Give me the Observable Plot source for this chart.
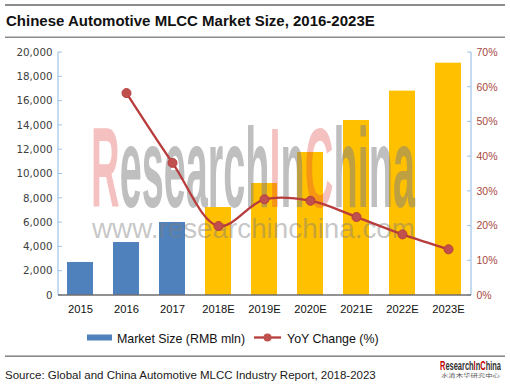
<!DOCTYPE html>
<html><head><meta charset="utf-8">
<script src="https://cdn.jsdelivr.net/npm/d3@7"></script>
<script src="https://cdn.jsdelivr.net/npm/@observablehq/plot@0.6"></script>
<style>
html,body{margin:0;padding:0;background:#fff;}
#page{position:relative;width:510px;height:391px;overflow:hidden;background:#fff;font-family:"Liberation Sans",Arial,sans-serif;}
#deco{position:absolute;left:0;top:0;}
#chart{position:absolute;left:0;top:40px;}
</style></head>
<body><div id="page"><svg id="deco" width="510" height="391"></svg><div id="chart"></div></div>
<script>
// ---- data ----
const years = ["2015","2016","2017","2018E","2019E","2020E","2021E","2022E","2023E"];
const marketSize = [2720, 4360, 6010, 7240, 9220, 11770, 14400, 16820, 19120];
const yoyYears = ["2016","2017","2018E","2019E","2020E","2021E","2022E","2023E"];
const yoyChange = [58.3, 38.2, 20.0, 27.7, 27.3, 22.6, 17.6, 13.3];
const leftTicks = [0,2000,4000,6000,8000,10000,12000,14000,16000,18000,20000];
const rightTicks = [0,10,20,30,40,50,60,70];
const title = "Chinese Automotive MLCC Market Size, 2016-2023E";
const legendLabels = ["Market Size (RMB mln)", "YoY Change (%)"];
const source = "Source: Global and China Automotive MLCC Industry Report, 2018-2023";

const LMAX = 20000, RMAX = 70;
const toLeft = p => p * LMAX / RMAX;
const barData = years.map((y,i) => ({year:y, value:marketSize[i], type: y.endsWith("E") ? "forecast" : "actual"}));
const yoyData = yoyYears.map((y,i) => ({year:y, pct:yoyChange[i]}));

const BLUE = "#4F81BD", YELLOW = "#FFC000", RED = "#C0504D", AXISBLUE = "#9DC3E6";
const FF = "'Liberation Sans', Arial, sans-serif";

function watermark() {
  const g = d3.create("svg:g").attr("pointer-events","none").attr("text-anchor","start");
  const t = g.append("text").attr("x", 91).attr("y", 167).attr("text-anchor","start")
    .attr("textLength", 324).attr("lengthAdjust", "spacingAndGlyphs")
    .attr("font-size", 114).attr("font-weight", "bold")
    .attr("font-family", FF);
  [["R",1],["esearch",0],["I",1],["n",0],["C",1],["hina",0]].forEach(([s,p]) => {
    t.append("tspan").text(s)
      .attr("fill", p ? "#E03C3C" : "#7F7F7F")
      .attr("fill-opacity", p ? 0.32 : 0.5);
  });
  g.append("text").attr("x", 92).attr("y", 198).attr("text-anchor","start")
    .attr("textLength", 323).attr("lengthAdjust", "spacingAndGlyphs")
    .attr("font-size", 28).attr("font-family", FF)
    .attr("fill", "#7F7F7F").attr("fill-opacity", 0.45)
    .text("www.researchinchina.com");
  return g.node();
}

function frameLines(...args) {
  const dims = args.find(a => a && typeof a === "object" && "marginLeft" in a && "width" in a);
  const scales = args.find(a => a && typeof a === "object" && typeof a.y === "function");
  const {width, height, marginLeft, marginRight, marginTop, marginBottom} = dims;
  const y = scales.y;
  const g = d3.create("svg:g");
  const x0 = marginLeft, x1 = width - marginRight, y0 = marginTop, y1 = height - marginBottom;
  g.append("line").attr("x1", x0).attr("x2", x0).attr("y1", y0).attr("y2", y1).attr("stroke", AXISBLUE).attr("stroke-width", 1.2);
  g.append("line").attr("x1", x1).attr("x2", x1).attr("y1", y0).attr("y2", y1).attr("stroke", AXISBLUE).attr("stroke-width", 1.2);
  leftTicks.forEach(v => g.append("line").attr("x1", x0).attr("x2", x0 + 4).attr("y1", y(v)).attr("y2", y(v)).attr("stroke", AXISBLUE).attr("stroke-width", 1));
  rightTicks.forEach(v => g.append("line").attr("x1", x1 - 4).attr("x2", x1).attr("y1", y(toLeft(v))).attr("y2", y(toLeft(v))).attr("stroke", AXISBLUE).attr("stroke-width", 1));
  g.append("line").attr("x1", x0).attr("x2", x1).attr("y1", y1).attr("y2", y1).attr("stroke", "#6E6E6E").attr("stroke-width", 1.3);
  return g.node();
}

const chart = Plot.plot({
  width: 510, height: 285,
  marginLeft: 58, marginRight: 39, marginTop: 12, marginBottom: 30,
  style: {background: "transparent", fontFamily: FF, overflow: "visible"},
  x: {type: "band", domain: years, paddingInner: 0.43, paddingOuter: 0.2, axis: null},
  y: {domain: [0, LMAX], axis: null},
  color: {domain: ["actual","forecast"], range: [BLUE, YELLOW]},
  marks: [
    Plot.barY(barData, {x: "year", y: "value", fill: "type"}),
    watermark,
    frameLines,
    Plot.axisY({anchor: "left", label: null, ticks: leftTicks, tickSize: 0, tickPadding: 6, tickFormat: d3.format(","), fill: "#404040", fontSize: 10.3, fontFamily: "'DejaVu Sans', sans-serif"}),
    Plot.axisY({anchor: "right", label: null, ticks: rightTicks.map(toLeft), tickSize: 0, tickPadding: 5, tickFormat: d => Math.round(d * RMAX / LMAX) + "%", fill: "#A8493C", fontSize: 10.5, fontFamily: "'Liberation Sans Narrow', 'Liberation Sans', sans-serif"}),
    Plot.axisX({anchor: "bottom", label: null, tickSize: 0, tickPadding: 10, fill: "#111", fontSize: 11.2}),
    Plot.line(yoyData, {x: "year", y: d => toLeft(d.pct), curve: "catmull-rom", stroke: "#B83C3C", strokeWidth: 2.3}),
    Plot.dot(yoyData, {x: "year", y: d => toLeft(d.pct), r: 4.5, fill: RED, stroke: "#B83C3C", strokeWidth: 1})
  ]
});
document.getElementById("chart").appendChild(chart);

// ---- decorations (title, legend, source, logo) ----
const deco = d3.select("#deco");
deco.append("rect").attr("x", 5).attr("y", 4).attr("width", 500).attr("height", 2).attr("fill", "#8C8C8C");
deco.append("rect").attr("x", 5).attr("y", 36.5).attr("width", 500).attr("height", 1.5).attr("fill", "#8C8C8C");
deco.append("text").attr("x", 6).attr("y", 26).attr("font-family", FF).attr("font-size", 15).attr("font-weight", "bold").attr("fill", "#111").text(title);

// legend
deco.append("rect").attr("x", 87).attr("y", 334.5).attr("width", 25).attr("height", 6).attr("fill", BLUE);
deco.append("text").attr("x", 117).attr("y", 342.5).attr("font-family", FF).attr("font-size", 12.4).attr("fill", "#111").text(legendLabels[0]);
deco.append("line").attr("x1", 254).attr("x2", 281).attr("y1", 337.5).attr("y2", 337.5).attr("stroke", "#B83C3C").attr("stroke-width", 2.3);
deco.append("circle").attr("cx", 267.5).attr("cy", 337.5).attr("r", 4).attr("fill", RED);
deco.append("text").attr("x", 287).attr("y", 342.5).attr("font-family", FF).attr("font-size", 12.4).attr("fill", "#111").text(legendLabels[1]);

// source
deco.append("rect").attr("x", 5).attr("y", 355.5).attr("width", 500).attr("height", 1.3).attr("fill", "#6E6E6E");
deco.append("text").attr("x", 5).attr("y", 379).attr("font-family", FF).attr("font-size", 11.5).attr("fill", "#1a1a1a").text(source);

// logo
const logo = deco.append("text").attr("x", 440).attr("y", 369.5).attr("textLength", 61).attr("lengthAdjust", "spacingAndGlyphs")
  .attr("font-family", FF).attr("font-size", 12).attr("font-weight", "bold");
[["R",1],["esearch",0],["I",1],["n",0],["C",1],["hina",0]].forEach(([s,p]) => logo.append("tspan").text(s).attr("fill", p ? "#C00000" : "#333"));
deco.append("text").attr("x", 441).attr("y", 377).attr("textLength", 59).attr("lengthAdjust", "spacingAndGlyphs")
  .attr("font-family", "'Noto Sans CJK SC', sans-serif").attr("font-size", 5).attr("fill", "#555").text("水清木华研究中心");
</script></body></html>
